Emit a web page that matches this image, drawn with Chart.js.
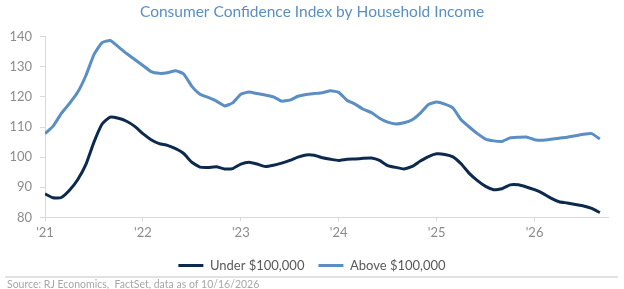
<!DOCTYPE html>
<html>
<head>
<meta charset="utf-8">
<script src="https://cdn.jsdelivr.net/npm/chart.js@4"></script>
<style>
  html, body { margin: 0; padding: 0; background: #ffffff; }
  #chart { display: block; }
</style>
</head>
<body>
<canvas id="chart" width="624" height="289"></canvas>
<script>
// Data (monthly, Jan 2021 onwards)

const yearTicks = ["'21", "'22", "'23", "'24", "'25", "'26"];

const underSeries = [
  87.8, 86.5, 86.6, 89.0, 92.5, 97.5, 105.0, 111.0, 113.3, 112.9, 111.9, 110.2,
  107.8, 105.8, 104.5, 103.9, 102.8, 101.2, 98.3, 96.7, 96.6, 96.8, 96.1, 96.2,
  97.7, 98.3, 97.7, 96.9, 97.3, 98.0, 98.9, 100.0, 100.7, 100.6, 99.8, 99.3,
  98.9, 99.3, 99.4, 99.6, 99.7, 98.9, 97.2, 96.6, 96.1, 96.9, 98.7, 100.2,
  101.1, 100.9, 100.1, 97.8, 94.6, 92.2, 90.3, 89.2, 89.5, 90.8, 90.8, 90.1,
  89.2, 88.0, 86.4, 85.2, 84.8, 84.3, 83.8, 83.0, 81.6,
];

const aboveSeries = [
  107.8, 110.3, 114.5, 117.8, 121.5, 127.0, 134.0, 138.0, 138.7, 136.6, 134.4, 132.4,
  130.4, 128.4, 127.8, 128.0, 128.7, 127.6, 123.5, 120.9, 119.8, 118.6, 117.0, 118.0,
  120.9, 121.6, 121.1, 120.6, 120.0, 118.6, 118.9, 120.2, 120.8, 121.1, 121.4, 122.0,
  121.5, 118.9, 117.6, 115.9, 114.8, 112.9, 111.6, 111.0, 111.4, 112.4, 114.6, 117.5,
  118.3, 117.6, 116.3, 112.4, 110.0, 107.8, 106.0, 105.4, 105.2, 106.4, 106.6, 106.7,
  105.8, 105.6, 105.9, 106.3, 106.6, 107.1, 107.6, 107.8, 106.0,
];

// months since Jan 2021
const monthIndex = underSeries.map((_, i) => i);

const sourceText = "Source: RJ Economics,  FactSet, data as of 10/16/2026";

const FONT = "Lato";
const axisColor = "#d9d9d9";
const tickColor = "#8c8c8c";

// separator line + source note under the legend
const sourceNote = {
  id: "sourceNote",
  afterDraw(chart) {
    const ctx = chart.ctx;
    ctx.save();
    ctx.strokeStyle = axisColor;
    ctx.lineWidth = 1.5;
    ctx.beginPath();
    ctx.moveTo(5, 277);
    ctx.lineTo(618, 277);
    ctx.stroke();
    ctx.fillStyle = "#a6a6a6";
    ctx.font = "10.5px " + FONT;
    ctx.textBaseline = "middle";
    ctx.fillText(sourceText, 7, 285);
    ctx.restore();
  },
};

const canvas = document.getElementById("chart");

new Chart(canvas, {
  type: "line",
  data: {
    labels: monthIndex,
    datasets: [
      {
        label: "Under $100,000",
        data: underSeries,
        borderColor: "#0c2a4d",
        backgroundColor: "#0c2a4d",
        borderWidth: 3,
        pointRadius: 0,
        tension: 0.15,
      },
      {
        label: "Above $100,000",
        data: aboveSeries,
        borderColor: "#5b8ec2",
        backgroundColor: "#5b8ec2",
        borderWidth: 3,
        pointRadius: 0,
        tension: 0.15,
      },
    ],
  },
  options: {
    responsive: false,
    animation: false,
    layout: { padding: { left: 0, right: 0, top: 0, bottom: 7 } },
    plugins: {
      title: {
        display: true,
        text: "Consumer Confidence Index by Household Income",
        color: "#5b8fc4",
        font: { family: FONT, size: 15.5, weight: "normal" },
        padding: { top: 3, bottom: 15 },
      },
      legend: {
        position: "bottom",
        labels: {
          usePointStyle: true,
          pointStyle: "line",
          pointStyleWidth: 25,
          padding: 14,
          color: "#595959",
          font: { family: FONT, size: 13 },
        },
      },
      tooltip: { enabled: false },
    },
    scales: {
      x: {
        type: "linear",
        min: 0,
        max: 69,
        border: { color: axisColor },
        grid: { drawOnChartArea: false, tickLength: 4, color: axisColor },
        ticks: {
          stepSize: 12,
          includeBounds: false,
          padding: 4,
          color: tickColor,
          font: { family: FONT, size: 13 },
          callback: (v) => yearTicks[v / 12],
        },
      },
      y: {
        min: 80,
        max: 140,
        afterFit: (scale) => {
          scale.width = 45;
        },
        border: { color: axisColor },
        grid: { drawOnChartArea: false, tickLength: 5, color: axisColor },
        ticks: {
          stepSize: 10,
          padding: 8,
          color: tickColor,
          font: { family: FONT, size: 13 },
        },
      },
      // empty right-hand spacer so title and legend stay centred on the page
      spacer: {
        type: "linear",
        position: "right",
        afterFit: (scale) => {
          scale.width = 16;
        },
        border: { display: false },
        grid: { display: false },
        ticks: { display: false },
      },
    },
  },
  plugins: [sourceNote],
});
</script>
</body>
</html>
